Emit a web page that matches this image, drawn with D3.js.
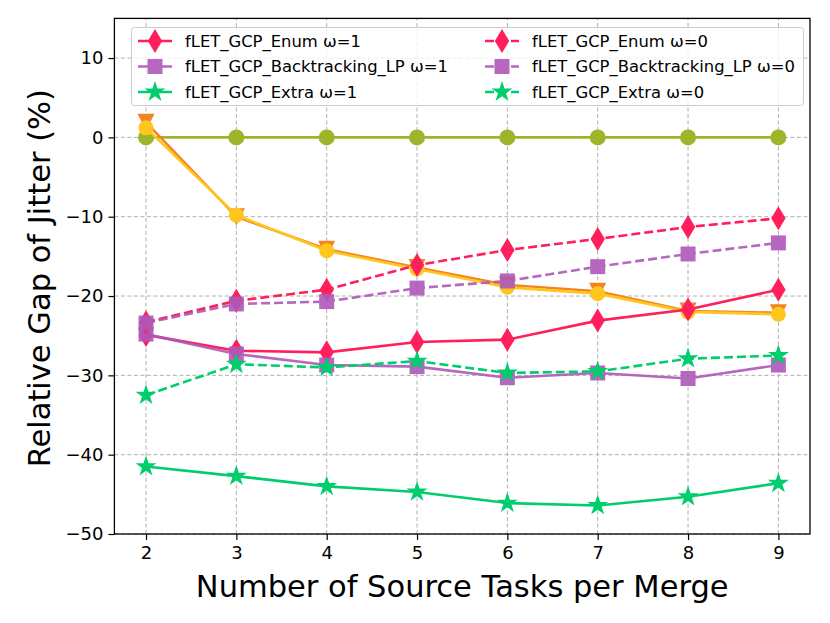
<!DOCTYPE html>
<html>
<head>
<meta charset="utf-8">
<script src="https://cdn.jsdelivr.net/npm/d3@7"></script>
<style>
  body { margin: 0; background: #fff; }
  svg { font-family: "DejaVu Sans", sans-serif; }
  .grid line { stroke: #b0b0b0; stroke-width: 1; stroke-dasharray: 4,2.5; }
</style>
</head>
<body>
<div id="chart"></div>
<script>
// source tasks per merge
const tasks = [2, 3, 4, 5, 6, 7, 8, 9];
const yTicks = [-50, -40, -30, -20, -10, 0, 10];

// relative gap of jitter (%)
const enumW1 = [-24.9, -26.9, -27.1, -25.8, -25.5, -23.1, -21.7, -19.2];
const backtrackW1 = [-24.8, -27.3, -28.7, -28.9, -30.3, -29.7, -30.4, -28.7];
const extraW1 = [-41.5, -42.7, -44.0, -44.7, -46.1, -46.4, -45.3, -43.6];
const enumW0 = [-23.3, -20.6, -19.2, -16.1, -14.2, -12.8, -11.3, -10.2];
const backtrackW0 = [-23.4, -21.0, -20.7, -19.0, -18.1, -16.3, -14.7, -13.3];
const extraW0 = [-32.5, -28.6, -29.0, -28.2, -29.7, -29.5, -27.9, -27.5];
// unlabelled reference lines
const baseline = [0, 0, 0, 0, 0, 0, 0, 0];
const orangeRef = [1.9, -10.0, -14.1, -16.4, -18.6, -19.4, -21.9, -22.1];
const yellowRef = [1.2, -9.8, -14.3, -16.6, -18.9, -19.7, -22.0, -22.3];

const W = 830, H = 623;
const margin = { top: 18.4, right: 20, bottom: 89, left: 114.4 };

const svg = d3.select("#chart").append("svg")
    .attr("width", W)
    .attr("height", H);

const x = d3.scaleLinear().domain([1.65, 9.35]).range([margin.left, W - margin.right]);
const y = d3.scaleLinear().domain([-50, 15]).range([H - margin.bottom, margin.top]);

// matplotlib-ish marker shapes, centred on 0,0
function markerPath(kind, s) {
    if (kind === "diamond") {
        const h = s / 2, w = s * 0.3;
        return `M0,${-h}L${w},0L0,${h}L${-w},0Z`;
    }
    if (kind === "square") {
        const h = s / 2;
        return `M${-h},${-h}H${h}V${h}H${-h}Z`;
    }
    if (kind === "triangleDown") {
        const h = s / 2;
        return `M${-h},${-h}L${h},${-h}L0,${h}Z`;
    }
    if (kind === "star") {
        const pts = [];
        for (let i = 0; i < 10; i++) {
            const r = i % 2 === 0 ? s / 2 : s / 2 * 0.381966;
            const a = -Math.PI / 2 + i * Math.PI / 5;
            pts.push([r * Math.cos(a), r * Math.sin(a)]);
        }
        return "M" + pts.map(p => p[0].toFixed(2) + "," + p[1].toFixed(2)).join("L") + "Z";
    }
    // circle
    const r = s / 2;
    return `M${r},0A${r},${r} 0 1,1 ${-r},0A${r},${r} 0 1,1 ${r},0Z`;
}

const series = [
    { values: baseline, color: "#9db52a", marker: "circle", size: 16, dash: null },
    { values: orangeRef, color: "#f28522", marker: "triangleDown", size: 17, dash: null },
    { values: yellowRef, color: "#ffc61e", marker: "circle", size: 15, dash: null },
    { name: "fLET_GCP_Enum ω=1", values: enumW1, color: "#ff1f5b", marker: "diamond", size: 24, dash: null },
    { name: "fLET_GCP_Backtracking_LP ω=1", values: backtrackW1, color: "#af58ba", marker: "square", size: 15, dash: null, opacity: 0.9 },
    { name: "fLET_GCP_Extra ω=1", values: extraW1, color: "#00cd6c", marker: "star", size: 22, dash: null },
    { name: "fLET_GCP_Enum ω=0", values: enumW0, color: "#ff1f5b", marker: "diamond", size: 24, dash: "9,4" },
    { name: "fLET_GCP_Backtracking_LP ω=0", values: backtrackW0, color: "#af58ba", marker: "square", size: 15, dash: "9,4", opacity: 0.9 },
    { name: "fLET_GCP_Extra ω=0", values: extraW0, color: "#00cd6c", marker: "star", size: 22, dash: "9,4" }
];

// grid
const grid = svg.append("g").attr("class", "grid");
grid.selectAll(".gx").data(tasks).enter().append("line")
    .attr("x1", d => x(d)).attr("x2", d => x(d))
    .attr("y1", y(-50)).attr("y2", y(15));
grid.selectAll(".gy").data(yTicks).enter().append("line")
    .attr("x1", x(1.65)).attr("x2", x(9.35))
    .attr("y1", d => y(d)).attr("y2", d => y(d));

// lines + markers
const line = d3.line().x((d, i) => x(tasks[i])).y(d => y(d));
series.forEach(s => {
    const g = svg.append("g").attr("opacity", s.opacity || 1);
    g.append("path")
        .attr("d", line(s.values))
        .attr("fill", "none")
        .attr("stroke", s.color)
        .attr("stroke-width", 2.6)
        .attr("stroke-dasharray", s.dash);
    g.selectAll("path.mk").data(s.values).enter().append("path")
        .attr("class", "mk")
        .attr("transform", (d, i) => `translate(${x(tasks[i])},${y(d)})`)
        .attr("d", markerPath(s.marker, s.size))
        .attr("fill", s.color);
});

// axes
const xAxis = svg.append("g")
    .attr("transform", `translate(0,${y(-50)})`)
    .call(d3.axisBottom(x).tickValues(tasks).tickSize(6).tickPadding(6).tickSizeOuter(0));
const yAxis = svg.append("g")
    .attr("transform", `translate(${x(1.65)},0)`)
    .call(d3.axisLeft(y).tickValues(yTicks).tickSize(6).tickPadding(5).tickSizeOuter(0)
        .tickFormat(d => d < 0 ? "\u2212" + Math.abs(d) : d));
[xAxis, yAxis].forEach(a => {
    a.selectAll("text").attr("font-size", 18).attr("fill", "#000").attr("font-family", "DejaVu Sans");
    a.selectAll("line").attr("stroke", "#000").attr("stroke-width", 1.2);
    a.select(".domain").remove();
});

// frame
svg.append("rect")
    .attr("x", x(1.65)).attr("y", y(15))
    .attr("width", x(9.35) - x(1.65)).attr("height", y(-50) - y(15))
    .attr("fill", "none").attr("stroke", "#000").attr("stroke-width", 1.3);

// axis labels
svg.append("text")
    .attr("x", (x(1.65) + x(9.35)) / 2)
    .attr("y", 597)
    .attr("text-anchor", "middle")
    .attr("font-size", 30.5)
    .text("Number of Source Tasks per Merge");
svg.append("text")
    .attr("transform", `translate(50,${(y(-50) + y(15)) / 2 + 2}) rotate(-90)`)
    .attr("text-anchor", "middle")
    .attr("font-size", 30.5)
    .text("Relative Gap of Jitter (%)");

// legend, two columns
const labelled = series.filter(s => s.name);
const legend = svg.append("g");
legend.append("rect")
    .attr("x", 131.5).attr("y", 27.5)
    .attr("width", 672).attr("height", 78)
    .attr("rx", 3)
    .attr("fill", "#fff").attr("fill-opacity", 0.8)
    .attr("stroke", "#cccccc").attr("stroke-width", 1);
const colX = [138, 485];
const rowY = [41, 66.5, 92];
labelled.forEach((s, k) => {
    const col = Math.floor(k / 3), row = k % 3;
    const gx = colX[col], gy = rowY[row];
    const item = legend.append("g").attr("opacity", s.opacity || 1);
    item.append("line")
        .attr("x1", gx).attr("x2", gx + 34)
        .attr("y1", gy).attr("y2", gy)
        .attr("stroke", s.color).attr("stroke-width", 2.6)
        .attr("stroke-dasharray", s.dash);
    item.append("path")
        .attr("transform", `translate(${gx + 17},${gy})`)
        .attr("d", markerPath(s.marker, s.size))
        .attr("fill", s.color);
    legend.append("text")
        .attr("x", gx + 47).attr("y", gy)
        .attr("dy", "0.36em")
        .attr("font-size", 16.4)
        .text(s.name);
});
</script>
</body>
</html>
